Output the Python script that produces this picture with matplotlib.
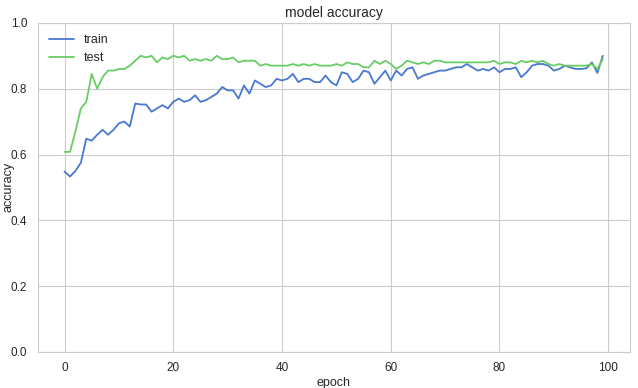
import matplotlib
matplotlib.use("Agg")
import matplotlib.pyplot as plt
import seaborn as sns
import numpy as np

sns.set_style("whitegrid")
plt.rcParams['font.family'] = ['Liberation Sans', 'DejaVu Sans']

# accuracy history per epoch
train_acc = [0.548, 0.533, 0.550, 0.575, 0.648, 0.642, 0.660, 0.675, 0.660, 0.675,
             0.695, 0.700, 0.685, 0.755, 0.752, 0.752, 0.730, 0.740, 0.750, 0.740,
             0.760, 0.770, 0.760, 0.765, 0.780, 0.760, 0.765, 0.775, 0.785, 0.805,
             0.795, 0.795, 0.770, 0.810, 0.785, 0.825, 0.815, 0.805, 0.810, 0.830,
             0.825, 0.830, 0.845, 0.820, 0.830, 0.830, 0.820, 0.820, 0.840, 0.820,
             0.810, 0.850, 0.845, 0.820, 0.830, 0.855, 0.850, 0.815, 0.835, 0.855,
             0.825, 0.855, 0.840, 0.860, 0.865, 0.830, 0.840, 0.845, 0.850, 0.855,
             0.855, 0.860, 0.865, 0.865, 0.875, 0.865, 0.855, 0.860, 0.855, 0.865,
             0.850, 0.860, 0.860, 0.865, 0.835, 0.850, 0.870, 0.875, 0.875, 0.870,
             0.855, 0.860, 0.870, 0.865, 0.860, 0.860, 0.862, 0.880, 0.848, 0.900]
test_acc = [0.608, 0.608, 0.670, 0.740, 0.760, 0.845, 0.800, 0.835, 0.855, 0.855,
            0.860, 0.860, 0.870, 0.885, 0.900, 0.895, 0.900, 0.880, 0.895, 0.890,
            0.900, 0.895, 0.900, 0.885, 0.890, 0.885, 0.890, 0.885, 0.900, 0.890,
            0.890, 0.895, 0.880, 0.885, 0.885, 0.885, 0.870, 0.875, 0.870, 0.870,
            0.870, 0.870, 0.875, 0.870, 0.875, 0.870, 0.875, 0.870, 0.870, 0.870,
            0.875, 0.870, 0.880, 0.875, 0.875, 0.865, 0.865, 0.885, 0.875, 0.885,
            0.875, 0.860, 0.870, 0.885, 0.880, 0.875, 0.880, 0.875, 0.885, 0.885,
            0.880, 0.880, 0.880, 0.880, 0.880, 0.880, 0.880, 0.880, 0.880, 0.885,
            0.875, 0.880, 0.880, 0.875, 0.885, 0.880, 0.885, 0.880, 0.885, 0.875,
            0.870, 0.875, 0.870, 0.870, 0.870, 0.870, 0.870, 0.875, 0.860, 0.890]
epochs = np.arange(len(train_acc))

fig = plt.figure(figsize=(6.38, 3.88), dpi=100)
ax = fig.add_axes([0.059, 0.093, 0.928, 0.848])
ax.plot(epochs, train_acc, color="#4878CF", linewidth=1.3, label="train")
ax.plot(epochs, test_acc, color="#6ACC65", linewidth=1.3, label="test")
ax.set_ylim(0, 1.0)
ax.set_title("model accuracy", fontsize=10, color="#262626", pad=4)
ax.set_xlabel("epoch", fontsize=9, color="#262626", labelpad=2)
ax.set_ylabel("accuracy", fontsize=9, color="#262626")
ax.yaxis.set_label_coords(-0.039, 0.5)
ax.tick_params(labelsize=8.5, colors="#262626", pad=4)
ax.legend(loc="upper left", frameon=False, fontsize=9)
fig.savefig("out.png", dpi=100)
